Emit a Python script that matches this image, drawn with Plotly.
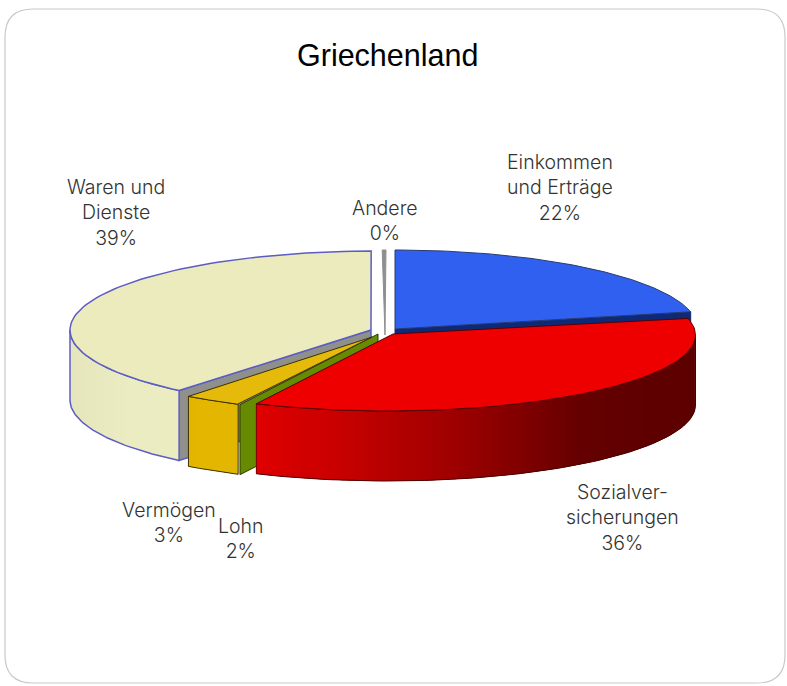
import plotly.graph_objects as go
import numpy as np

# ---- data ----
title = "Griechenland"
categories = ["Einkommen<br>und Erträge", "Sozialver-<br>sicherungen", "Lohn", "Vermögen", "Waren und<br>Dienste", "Andere"]
values = [21.5, 35.5, 1.5, 2.6, 38.7, 0.2]
shown_percent = ["22%", "36%", "2%", "3%", "39%", "0%"]

# ---- drawing style ----
W, H = 787, 686
DEPTH = 70
# arc centre x,y, radius x,y, apex x,y for each slice (exploded, perspective look)
geom = {
    "Einkommen<br>und Erträge": (395, 329, 303, 79, 395, 329),
    "Sozialver-<br>sicherungen": (387.5, 335, 308, 76, 393, 334),
    "Lohn": (369, 335, 303, 77, 378, 334),
    "Vermögen": (428, 332, 373, 84, 372, 337),
    "Waren und<br>Dienste": (375, 330, 305, 79, 371, 330),
    "Andere": (386, 330, 303, 80, 385, 335),
}
label_pos = [(560, 187), (622, 517), (241, 538), (169, 522), (116, 212), (385, 220)]

fig = go.Figure()


def poly(xs, ys, fill, line=None, width=1.0):
    fig.add_trace(go.Scatter(
        x=list(xs), y=list(ys), mode="lines", fill="toself", fillcolor=fill,
        line=dict(color=line or fill, width=width), hoverinfo="skip", showlegend=False))


def stroke(xs, ys, color, width=1.0):
    fig.add_trace(go.Scatter(
        x=list(xs), y=list(ys), mode="lines", line=dict(color=color, width=width),
        hoverinfo="skip", showlegend=False))


def lerp_colors(stops, t):
    ts = [s[0] for s in stops]
    rgb = [np.interp(t, ts, [s[1][i] for s in stops]) for i in range(3)]
    return "rgb(%d,%d,%d)" % tuple(int(round(v)) for v in rgb)


cum = np.concatenate([[0], np.cumsum(values)])
span = {c: (cum[i] * 3.6, cum[i + 1] * 3.6) for i, c in enumerate(categories)}


def pt(g, deg):
    t = np.radians(deg)
    return g[0] + g[2] * np.sin(t), g[1] - g[3] * np.cos(t)


def top(cat, fill, line, width=1.0):
    g = geom[cat]
    a, b = span[cat]
    th = np.linspace(a, b, 80)
    x, y = pt(g, th)
    poly([g[4], *x, g[4]], [g[5], *y, g[5]], fill, line, width)


def cut_face(cat, deg, fill, line, width=1.0):
    g = geom[cat]
    x, y = pt(g, deg)
    poly([g[4], x, x, g[4], g[4]], [g[5], y, y + DEPTH, g[5] + DEPTH, g[5]], fill, line, width)


def wall(cat, stops, line, width=1.0, bands=40):
    """Front wall as overlapping strips, last strip painted on top of the previous one."""
    g = geom[cat]
    a, b = span[cat]
    a, b = max(a, 90), min(b, 270)
    edges = np.linspace(a, b, bands + 1)
    for i in range(bands):
        th = np.linspace(edges[i], edges[min(i + 2, bands)], 6)
        x, y = pt(g, th)
        xm, _ = pt(g, (edges[i] + edges[i + 1]) / 2)
        col = lerp_colors(stops, (xm - g[0] + g[2]) / (2 * g[2]))
        fig.add_trace(go.Scatter(
            x=[*x, *x[::-1], x[0]], y=[*y, *(y[::-1] + DEPTH), y[0]], mode="none",
            fill="toself", fillcolor=col, hoverinfo="skip", showlegend=False))
    th = np.linspace(a, b, 80)
    x, y = pt(g, th)
    stroke(x, y, line, width)
    stroke(x, y + DEPTH, line, width)
    return x, y


cE, cS, cL, cV, cW, cA = categories

# Andere: hairline slice
top(cA, "#8f8f8f", "#8f8f8f", 1.0)

# Einkommen: dark face, then top
cut_face(cE, span[cE][1], "#0c2a78", "#0c2a78")
top(cE, "#2f60f0", "#2a3a70", 1.0)

# Waren und Dienste
wall(cW, [(0, (230, 230, 188)), (0.1, (236, 236, 194)), (0.3, (236, 236, 192)), (0.4, (230, 230, 186)), (1, (230, 230, 186))],
     "#5c5cc4", 1.5)
stroke([70, 70], [geom[cW][1], geom[cW][1] + DEPTH], "#5c5cc4", 1.5)
cut_face(cW, span[cW][0], "#8f8f8c", "#5c5cc4", 1.5)
top(cW, "#ebebbe", "#5c5cc4", 1.5)

# Lohn: only the cut face shows
cut_face(cL, span[cL][0], "#668a00", "#2e3a00", 1.0)

# Vermögen
wall(cV, [(0, (226, 180, 0)), (1, (232, 188, 0))], "#3c3000", 1.0, bands=6)
gv = geom[cV]
for d in span[cV]:
    xv, yv = pt(gv, d)
    stroke([xv, xv], [yv, yv + DEPTH], "#3c3000", 1.0)
top(cV, "#e6ba0a", "#3c3000", 1.0)

# Sozialversicherungen
wall(cS, [(0.285, (224, 0, 0)), (0.44, (196, 0, 0)), (0.60, (160, 0, 0)), (0.71, (130, 0, 0)), (0.817, (100, 0, 0)), (1, (92, 0, 0))],
     "#4a0000", 1.0, bands=90)
xs0, ys0 = pt(geom[cS], span[cS][1])
stroke([xs0, xs0], [ys0, ys0 + DEPTH], "#7a0000", 1.0)
xs1, ys1 = pt(geom[cS], 90)
stroke([xs1, xs1], [ys1, ys1 + DEPTH], "#4a0000", 1.0)
top(cS, "#ee0000", "#5a0000", 1.0)

# ---- text ----
font = dict(family="Inter", size=19.5, color="#333333", weight=300)
for cat, pct, (lx, ly) in zip(categories, shown_percent, label_pos):
    fig.add_annotation(x=lx, y=ly, text=f"{cat}<br>{pct}", showarrow=False, font=font,
                       xanchor="center", yanchor="middle", align="center")
fig.add_annotation(x=387, y=55, text=title, showarrow=False,
                   font=dict(family="Liberation Sans", size=30.5, color="#000000"),
                   xanchor="center", yanchor="middle")

# ---- frame ----
fr = dict(l=5, r=785, t=9, b=683, rad=28)
path = (f"M {fr['l']+fr['rad']} {fr['t']} L {fr['r']-fr['rad']} {fr['t']} "
        f"Q {fr['r']} {fr['t']} {fr['r']} {fr['t']+fr['rad']} L {fr['r']} {fr['b']-fr['rad']} "
        f"Q {fr['r']} {fr['b']} {fr['r']-fr['rad']} {fr['b']} L {fr['l']+fr['rad']} {fr['b']} "
        f"Q {fr['l']} {fr['b']} {fr['l']} {fr['b']-fr['rad']} L {fr['l']} {fr['t']+fr['rad']} "
        f"Q {fr['l']} {fr['t']} {fr['l']+fr['rad']} {fr['t']} Z")
fig.add_shape(type="path", path=path, xref="x", yref="y", line=dict(color="#c9c9c9", width=1.2), layer="below")

fig.update_layout(
    width=W, height=H, margin=dict(l=0, r=0, t=0, b=0),
    paper_bgcolor="white", plot_bgcolor="white", showlegend=False,
    xaxis=dict(range=[0, W], visible=False, fixedrange=True),
    yaxis=dict(range=[H, 0], visible=False, fixedrange=True),
)
fig.write_html("out.html", post_script="document.body.style.margin='0';document.documentElement.style.overflow='hidden';",
               config={"displayModeBar": False})
